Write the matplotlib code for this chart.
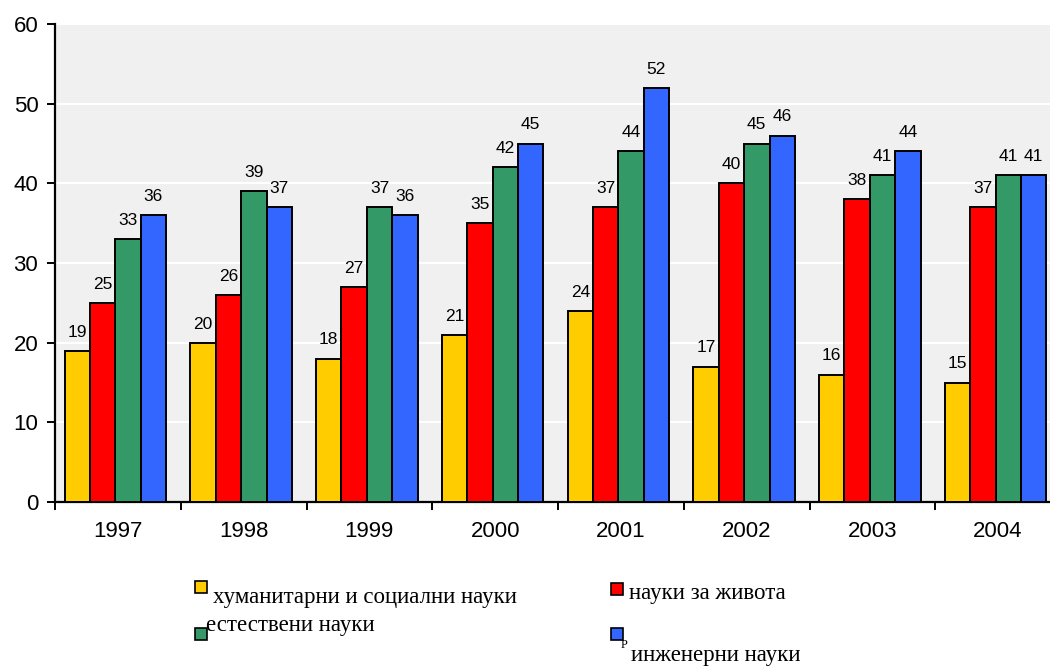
import matplotlib
matplotlib.use("Agg")
import matplotlib.pyplot as plt
import numpy as np

years = ["1997", "1998", "1999", "2000", "2001", "2002", "2003", "2004"]
humanities = [19, 20, 18, 21, 24, 17, 16, 15]
life_sci = [25, 26, 27, 35, 37, 40, 38, 37]
natural_sci = [33, 39, 37, 42, 44, 45, 41, 41]
engineering = [36, 37, 36, 45, 52, 46, 44, 41]

series = [humanities, life_sci, natural_sci, engineering]
names = ["хуманитарни и социални науки", "науки за живота",
         "естествени науки", "инженерни науки"]
colors = ["#FFCC00", "#FF0000", "#339966", "#3366FF"]

fig = plt.figure(figsize=(10.5, 6.68), dpi=100)
W, H = 1050, 668
ax = fig.add_axes([55 / W, 166 / H, 1006 / W, 478 / H])
ax.set_facecolor("#F0F0F0")

n = len(years)
bw = 0.202
centers = np.arange(n) + 0.5
for k, (vals, col) in enumerate(zip(series, colors)):
    xs = centers - 0.02 + (k - 1.5) * bw
    bars = ax.bar(xs, vals, width=bw, color=col, edgecolor="black",
                  linewidth=1.4, zorder=3)
    for b, v in zip(bars, vals):
        ax.annotate(str(v), (b.get_x() + b.get_width() / 2, v),
                    xytext=(0, 8), textcoords="offset points",
                    ha="center", va="bottom", fontsize=12.5,
                    family="Liberation Sans", zorder=4)

ax.set_xlim(0, n)
ax.set_ylim(0, 60)
ax.set_yticks(np.arange(0, 61, 10))
ax.yaxis.grid(True, color="white", linewidth=1.5, zorder=0)
ax.set_axisbelow(True)

ax.set_xticks(np.arange(0, n + 1))
ax.set_xticklabels([])
ax.set_xticks(centers, minor=True)
ax.set_xticklabels(years, minor=True)
ax.tick_params(axis="x", which="minor", length=0, pad=14)
ax.tick_params(axis="x", which="major", length=6, width=1.4, direction="out")
ax.tick_params(axis="y", length=6, width=1.4, direction="out", pad=6)
for lbl in ax.get_xticklabels(minor=True) + ax.get_yticklabels():
    lbl.set_fontfamily("Liberation Sans")
    lbl.set_fontsize(16)

for side in ("top", "right"):
    ax.spines[side].set_visible(False)
for side in ("left", "bottom"):
    ax.spines[side].set_linewidth(1.6)
    ax.spines[side].set_color("black")

# Legend entries placed as individual swatches and labels
def swatch(px, py, col):
    r = plt.Rectangle((px / W, 1 - (py + 12) / H), 12 / W, 12 / H,
                      transform=fig.transFigure, facecolor=col,
                      edgecolor="black", linewidth=1.2)
    fig.add_artist(r)

def label(px, py, txt, size=16.5):
    fig.text(px / W, 1 - py / H, txt, ha="left", va="center",
             fontsize=size, family="Liberation Serif")

swatch(195, 581, colors[0])
label(213, 598, names[0])
swatch(611, 583, colors[1])
label(629, 593, names[1])
swatch(195, 628, colors[2])
label(206, 625, names[2])
swatch(611, 628, colors[3])
label(631, 655, names[3])
label(621, 645, "Р", size=9)

fig.savefig("out.png", dpi=100)
